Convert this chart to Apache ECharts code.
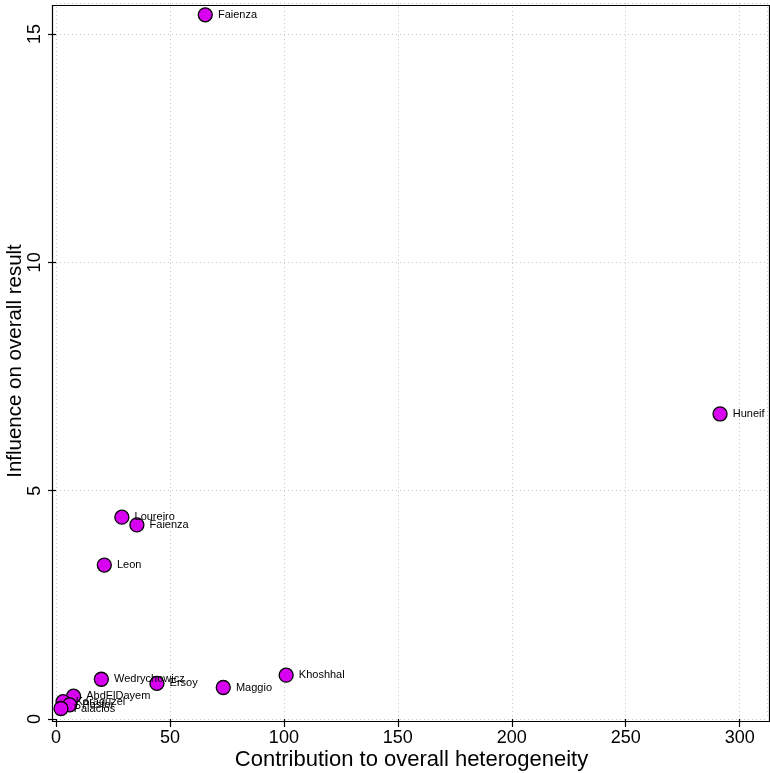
<!DOCTYPE html>
<html>
<head>
<meta charset="utf-8">
<script src="https://cdn.jsdelivr.net/npm/echarts@6/dist/echarts.min.js"></script>
<style>
  html, body { margin: 0; padding: 0; background: #fff; }
  #main { width: 770px; height: 773px; }
</style>
</head>
<body>
<div id="main"></div>
<script>
// study names (bottom-left cluster labels overlap)
const studies = ['Faienza', 'Huneif', 'Loureiro', 'Faienza', 'Leon', 'Wedrychowicz', 'Ersoy',
    'Maggio', 'Khoshhal', 'AbdElDayem', 'Karaguzel', 'Pastor', 'Palacios'];
// contribution to overall heterogeneity (x)
const heterogeneity = [65.5, 291.4, 28.9, 35.5, 21.2, 19.9, 44.3, 73.4, 101.0, 7.7, 3.1, 6.0, 2.2];
// influence on overall result (y)
const influence = [15.42, 6.68, 4.42, 4.25, 3.37, 0.87, 0.78, 0.69, 0.96, 0.50, 0.38, 0.31, 0.23];

const xTicks = { min: 0, max: 312, interval: 50 };
const yTicks = { min: 0, max: 15.68, interval: 5 };

const chartDom = document.getElementById('main');
const myChart = echarts.init(chartDom);
const font = 'Liberation Sans, Arial, sans-serif';

const points = studies.map((name, i) => ({
    name: name,
    value: [heterogeneity[i], influence[i]]
}));

const option = {
    animation: false,
    textStyle: { fontFamily: font },
    grid: { left: 56, right: 3, top: 3, bottom: 54, show: false, outerBoundsMode: 'none' },
    // box round the plot region, like R's box()
    graphic: [{
        type: 'rect',
        left: 50, top: 3,
        shape: { width: 717, height: 716 },
        style: { fill: 'none', stroke: '#000', lineWidth: 1.2 },
        z: 10
    }],
    xAxis: {
        type: 'value',
        min: xTicks.min,
        max: xTicks.max,
        interval: xTicks.interval,
        name: 'Contribution to overall heterogeneity',
        nameLocation: 'middle',
        nameGap: 30,
        nameMoveOverlap: false,
        nameTextStyle: { fontSize: 22, color: '#000', fontFamily: font },
        axisLine: { show: false },
        axisTick: { show: true, inside: false, length: 8, lineStyle: { color: '#000', width: 1.2 } },
        axisLabel: {
            fontSize: 18, color: '#000', margin: 10, fontFamily: font,
            showMaxLabel: false
        },
        splitLine: { show: true, lineStyle: { color: '#c8c8c8', type: [1, 3], width: 1 } }
    },
    yAxis: {
        type: 'value',
        min: yTicks.min,
        max: yTicks.max,
        interval: yTicks.interval,
        offset: 6,
        name: 'Influence on overall result',
        nameLocation: 'middle',
        nameGap: 24,
        nameMoveOverlap: false,
        nameTextStyle: { fontSize: 20.5, color: '#000', fontFamily: font },
        axisLine: { show: false },
        axisTick: { show: true, inside: false, length: 8, lineStyle: { color: '#000', width: 1.2 } },
        axisLabel: {
            fontSize: 18, color: '#000', margin: 6, rotate: 90, fontFamily: font,
            showMaxLabel: false
        },
        splitLine: { show: true, lineStyle: { color: '#c8c8c8', type: [1, 3], width: 1 } }
    },
    series: [{
        type: 'scatter',
        symbol: 'circle',
        symbolSize: 14,
        itemStyle: { color: '#d800f0', borderColor: '#000', borderWidth: 1.3, opacity: 1 },
        label: {
            show: true,
            position: 'right',
            distance: 5,
            formatter: '{b}',
            fontSize: 11,
            color: '#000',
            fontFamily: font
        },
        labelLayout: { hideOverlap: false },
        data: points
    }]
};

myChart.setOption(option);
</script>
</body>
</html>
